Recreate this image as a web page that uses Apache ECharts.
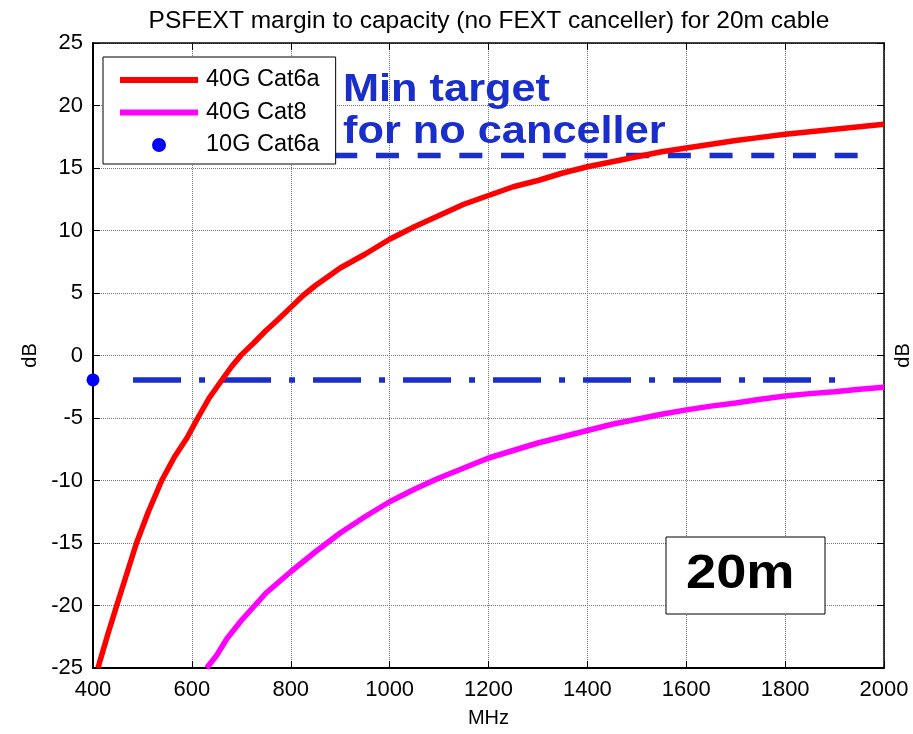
<!DOCTYPE html>
<html>
<head>
<meta charset="utf-8">
<script src="https://cdn.jsdelivr.net/npm/echarts@6/dist/echarts.min.js"></script>
<style>
  html, body { margin: 0; padding: 0; background: #fff; }
  #chart { width: 913px; height: 734px; }
</style>
</head>
<body>
<div id="chart"></div>
<script>
// 40G Cat6a margin curve [MHz, dB]
const cat6aPoints = [
  [410, -25], [430, -22.3], [448, -20], [468, -17.5], [488, -15], [512, -12.5],
  [539, -10], [565, -8.1], [590, -6.6], [612, -5], [635, -3.4], [660, -2],
  [680, -0.9], [700, 0.05], [725, 1.0], [750, 2.0], [775, 2.9], [800, 3.85],
  [825, 4.8], [850, 5.6], [875, 6.3], [900, 7.0], [950, 8.1], [1000, 9.3],
  [1050, 10.3], [1100, 11.2], [1150, 12.1], [1200, 12.8], [1250, 13.5],
  [1300, 14.0], [1350, 14.6], [1400, 15.1], [1450, 15.5], [1500, 15.9],
  [1550, 16.3], [1600, 16.6], [1650, 16.9], [1700, 17.2], [1750, 17.45],
  [1800, 17.7], [1850, 17.9], [1900, 18.1], [1950, 18.3], [2000, 18.5]
];

// 40G Cat8 margin curve [MHz, dB]
const cat8Points = [
  [630, -25], [650, -24.0], [670, -22.7], [700, -21.2], [725, -20.1],
  [750, -19.0], [800, -17.3], [850, -15.7], [900, -14.2], [950, -12.9],
  [1000, -11.7], [1050, -10.7], [1100, -9.8], [1150, -9.0], [1200, -8.2],
  [1250, -7.6], [1300, -7.0], [1350, -6.5], [1400, -6.0], [1450, -5.5],
  [1500, -5.1], [1550, -4.7], [1600, -4.35], [1650, -4.05], [1700, -3.8],
  [1750, -3.5], [1800, -3.24], [1850, -3.05], [1900, -2.9], [1950, -2.7],
  [2000, -2.54]
];

// 10G Cat6a reference point and its level line
const cat6a10gPoint = [[400, -1.95]];
const cat6a10gLevel = [[481, -1.95], [1904, -1.95]];

// min target for no canceller
const minTargetLevel = [[888, 16], [1965, 16]];

const seriesNames = ['40G Cat6a', '40G Cat8', '10G Cat6a'];
const annotationLines = ['Min target', 'for no canceller'];
const boxLabel = '20m';

const xTicks = { min: 400, max: 2000, interval: 200 };
const yTicks = { min: -25, max: 25, interval: 5 };

const FONT = 'Liberation Sans, Arial, Helvetica, sans-serif';
const BLUE = '#1a2ecc';

const chart = echarts.init(document.getElementById('chart'), null, { renderer: 'canvas' });

const axisLine = (w) => ({ show: true, onZero: false, lineStyle: { color: '#000', width: w } });
const axisTick = { show: true, inside: true, length: 7, lineStyle: { color: '#000', width: 1 } };
const gridLine = { show: true, lineStyle: { color: '#7a7a7a', type: 'dotted', width: 1 } };

const option = {
  animation: false,
  backgroundColor: '#fff',
  title: {
    text: 'PSFEXT margin to capacity (no FEXT canceller) for 20m cable',
    left: 484,
    textAlign: 'center',
    top: 4,
    textStyle: { fontFamily: FONT, fontSize: 24.5, fontWeight: 'normal', color: '#000' }
  },
  grid: { left: 93, right: 29, top: 43, bottom: 66, containLabel: false, outerBoundsMode: 'none' },
  legend: {
    orient: 'vertical',
    left: 103,
    top: 57,
    data: [
      { name: seriesNames[0], itemStyle: { opacity: 0 } },
      { name: seriesNames[1], itemStyle: { opacity: 0 } },
      { name: seriesNames[2], icon: 'circle' }
    ],
    itemWidth: 78,
    itemHeight: 14,
    itemGap: 8.5,
    padding: [11, 16, 7, 14],
    backgroundColor: '#fff',
    borderColor: '#000',
    borderWidth: 1,
    borderRadius: 0,
    lineStyle: { width: 6 },
    textStyle: { fontFamily: FONT, fontSize: 23.5, color: '#000', lineHeight: 22, padding: [0, 0, 0, 3] }
  },
  xAxis: [
    {
      type: 'value',
      position: 'bottom',
      min: xTicks.min, max: xTicks.max, interval: xTicks.interval,
      name: 'MHz',
      nameLocation: 'middle',
      nameGap: 40,
      nameTextStyle: { fontFamily: FONT, fontSize: 20, color: '#000' },
      axisLine: axisLine(2),
      axisTick: axisTick,
      axisLabel: { fontFamily: FONT, fontSize: 22, color: '#000', margin: 11, formatter: (v) => String(v) },
      splitLine: gridLine
    },
    {
      type: 'value',
      position: 'top',
      min: xTicks.min, max: xTicks.max, interval: xTicks.interval,
      axisLine: axisLine(1.5),
      axisTick: axisTick,
      axisLabel: { show: false },
      splitLine: { show: false }
    }
  ],
  yAxis: [
    {
      type: 'value',
      position: 'left',
      min: yTicks.min, max: yTicks.max, interval: yTicks.interval,
      name: 'dB',
      nameLocation: 'middle',
      nameGap: 53,
      nameRotate: 90,
      nameTextStyle: { fontFamily: FONT, fontSize: 20, color: '#000' },
      axisLine: axisLine(2),
      axisTick: axisTick,
      axisLabel: { fontFamily: FONT, fontSize: 22, color: '#000', margin: 10 },
      splitLine: gridLine
    },
    {
      type: 'value',
      position: 'right',
      min: yTicks.min, max: yTicks.max, interval: yTicks.interval,
      name: 'dB',
      nameLocation: 'middle',
      nameGap: 9,
      nameRotate: 90,
      nameTextStyle: { fontFamily: FONT, fontSize: 20, color: '#000' },
      axisLine: axisLine(1.5),
      axisTick: axisTick,
      axisLabel: { show: false },
      splitLine: { show: false }
    }
  ],
  series: [
    {
      name: seriesNames[0],
      type: 'line',
      data: cat6aPoints,
      showSymbol: false,
      symbol: 'none',
      lineStyle: { color: '#ff0000', width: 5.5 },
      itemStyle: { color: '#ff0000' },
      z: 3
    },
    {
      name: seriesNames[1],
      type: 'line',
      data: cat8Points,
      showSymbol: false,
      symbol: 'none',
      lineStyle: { color: '#ff00ff', width: 5.5 },
      itemStyle: { color: '#ff00ff' },
      z: 3
    },
    {
      name: seriesNames[2],
      type: 'scatter',
      data: cat6a10gPoint,
      symbol: 'circle',
      symbolSize: 13,
      itemStyle: { color: '#0000ff', opacity: 1 },
      z: 5
    },
    {
      name: 'level10g',
      type: 'line',
      data: cat6a10gLevel,
      showSymbol: false,
      symbol: 'none',
      lineStyle: { color: BLUE, width: 5.5, type: [48, 18, 6, 18], cap: 'butt' },
      z: 2
    },
    {
      name: 'minTarget',
      type: 'line',
      data: minTargetLevel,
      showSymbol: false,
      symbol: 'none',
      lineStyle: { color: BLUE, width: 5.5, type: [23, 18.7], cap: 'butt' },
      z: 2
    }
  ],
  graphic: [
    {
      type: 'text',
      x: 343, y: 90.5,
      scaleX: 1.14,
      style: { text: annotationLines[0], x: 0, y: 0, fill: BLUE, font: 'bold 38px ' + FONT, verticalAlign: 'middle', align: 'left' },
      z: 10
    },
    {
      type: 'text',
      x: 343, y: 133,
      scaleX: 1.14,
      style: { text: annotationLines[1], x: 0, y: 0, fill: BLUE, font: 'bold 38px ' + FONT, verticalAlign: 'middle', align: 'left' },
      z: 10
    },
    {
      type: 'rect',
      shape: { x: 666, y: 537, width: 159, height: 77 },
      style: { fill: '#fff', stroke: '#000', lineWidth: 1 },
      z: 10
    },
    {
      type: 'text',
      x: 686, y: 575,
      scaleX: 1.13,
      style: { text: boxLabel, x: 0, y: 0, fill: '#000', font: 'bold 48px ' + FONT, verticalAlign: 'middle', align: 'left' },
      z: 11
    }
  ]
};

chart.setOption(option);
</script>
</body>
</html>
